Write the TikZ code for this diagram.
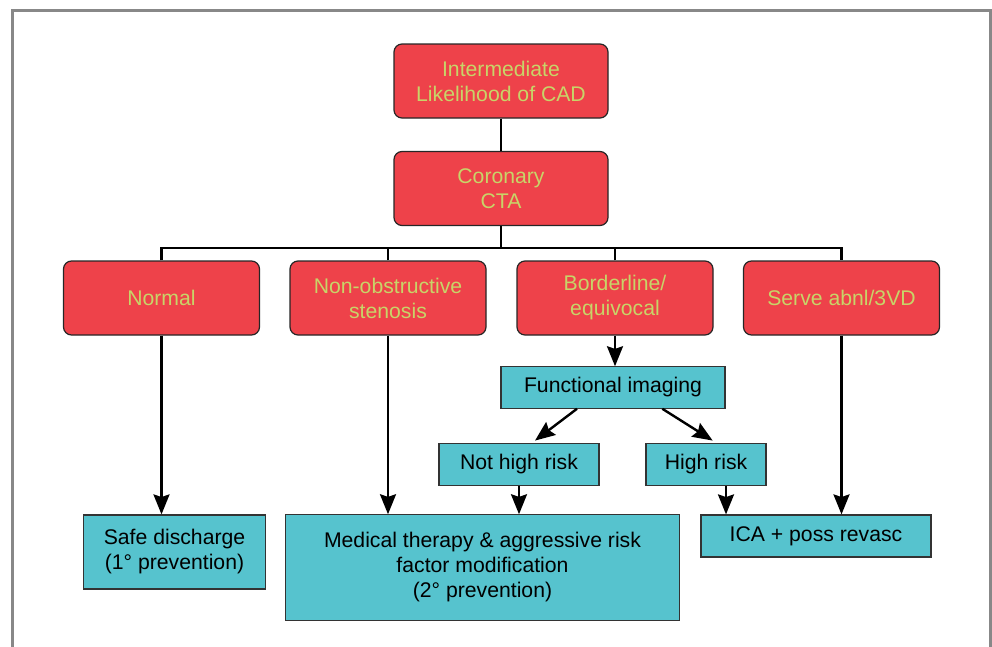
\documentclass[tikz,border=0pt]{standalone}
\usepackage{fontspec}
\setmainfont{Liberation Sans}
\usetikzlibrary{arrows.meta}

\definecolor{boxred}{RGB}{238,66,74}
\definecolor{boxteal}{RGB}{86,195,206}
\definecolor{labelgreen}{RGB}{200,212,104}
\definecolor{framegray}{RGB}{136,136,136}

\begin{document}
\begin{tikzpicture}[x=0.75pt,y=-0.75pt,
  every node/.style={font=\fontsize{15.9}{18.75}\selectfont,align=center,inner sep=0pt},
  redbox/.style={draw=black!85,line width=0.9pt,fill=boxred,text=labelgreen,rounded corners=6pt,minimum height=55.5pt},
  tealbox/.style={draw=black!80,line width=0.9pt,fill=boxteal,text=black},
  link/.style={line width=1.8pt},
  arrow/.style={link,-{Stealth[length=15pt,width=12pt,inset=2pt]}}]
  \useasboundingbox (0,0) rectangle (992,646);
  \clip (0,0) rectangle (992,646);
  \draw[framegray,line width=2.25pt] (12,660) -- (12,10) -- (990,10) -- (990,660);

  % first two levels
  \node[redbox,minimum width=160.5pt] (intro) at (501,81) {Intermediate\\Likelihood of CAD};
  \node[redbox,minimum width=160.5pt] (cta) at (501,188.5) {Coronary\\CTA};
  \node[redbox,minimum width=147pt] (normal) at (161.5,298) {Normal};
  \node[redbox,minimum width=147pt] (nonobs) at (388,298) {Non-obstructive\\stenosis};
  \node[redbox,minimum width=147pt] (border) at (615,298) {Borderline/\\equivocal};
  \node[redbox,minimum width=147pt] (severe) at (841.5,298) {Serve abnl/3VD};
  \coordinate (bus) at (501,248);

  % follow-up boxes
  \node[tealbox,minimum width=168pt,minimum height=31pt] (func) at (613,387.5) {Functional imaging};
  \node[tealbox,minimum width=120pt,minimum height=31pt] (nothigh) at (519,464.5) {Not high risk};
  \node[tealbox,minimum width=90pt,minimum height=31pt] (high) at (706,464.5) {High risk};
  \node[tealbox,minimum width=136pt,minimum height=55.5pt] (safe) at (174.5,552) {Safe discharge\\(1° prevention)};
  \node[tealbox,minimum width=296pt,minimum height=79pt] (medical) at (482.5,567.5) {Medical therapy \& aggressive risk\\factor modification\\(2° prevention)};
  \node[tealbox,minimum width=172.5pt,minimum height=31.5pt] (ica) at (816,536) {ICA + poss revasc};

  \draw[link] (intro) -- (cta);
  \draw[link] (cta) -- (bus);
  \draw[link] (normal.north) |- (bus) -| (severe.north);
  \draw[link] (nonobs.north) -- (nonobs.north |- bus);
  \draw[link] (border.north) -- (border.north |- bus);

  \draw[arrow] (normal) -- (normal |- safe.north);
  \draw[arrow] (nonobs) -- (nonobs |- medical.north);
  \draw[arrow] (severe) -- (severe |- ica.north);
  \draw[arrow] (border) -- (border |- func.north);
  \draw[arrow] ([xshift=-27pt]func.south) -- ([xshift=12pt,yshift=2pt]nothigh.north);
  \draw[arrow] ([xshift=37pt]func.south) -- ([xshift=5pt,yshift=2pt]high.north);
  \draw[arrow] (nothigh) -- (nothigh |- medical.north);
  \draw[arrow] ([xshift=15pt]high.south) -- ([xshift=15pt]high.south |- ica.north);
\end{tikzpicture}
\end{document}
